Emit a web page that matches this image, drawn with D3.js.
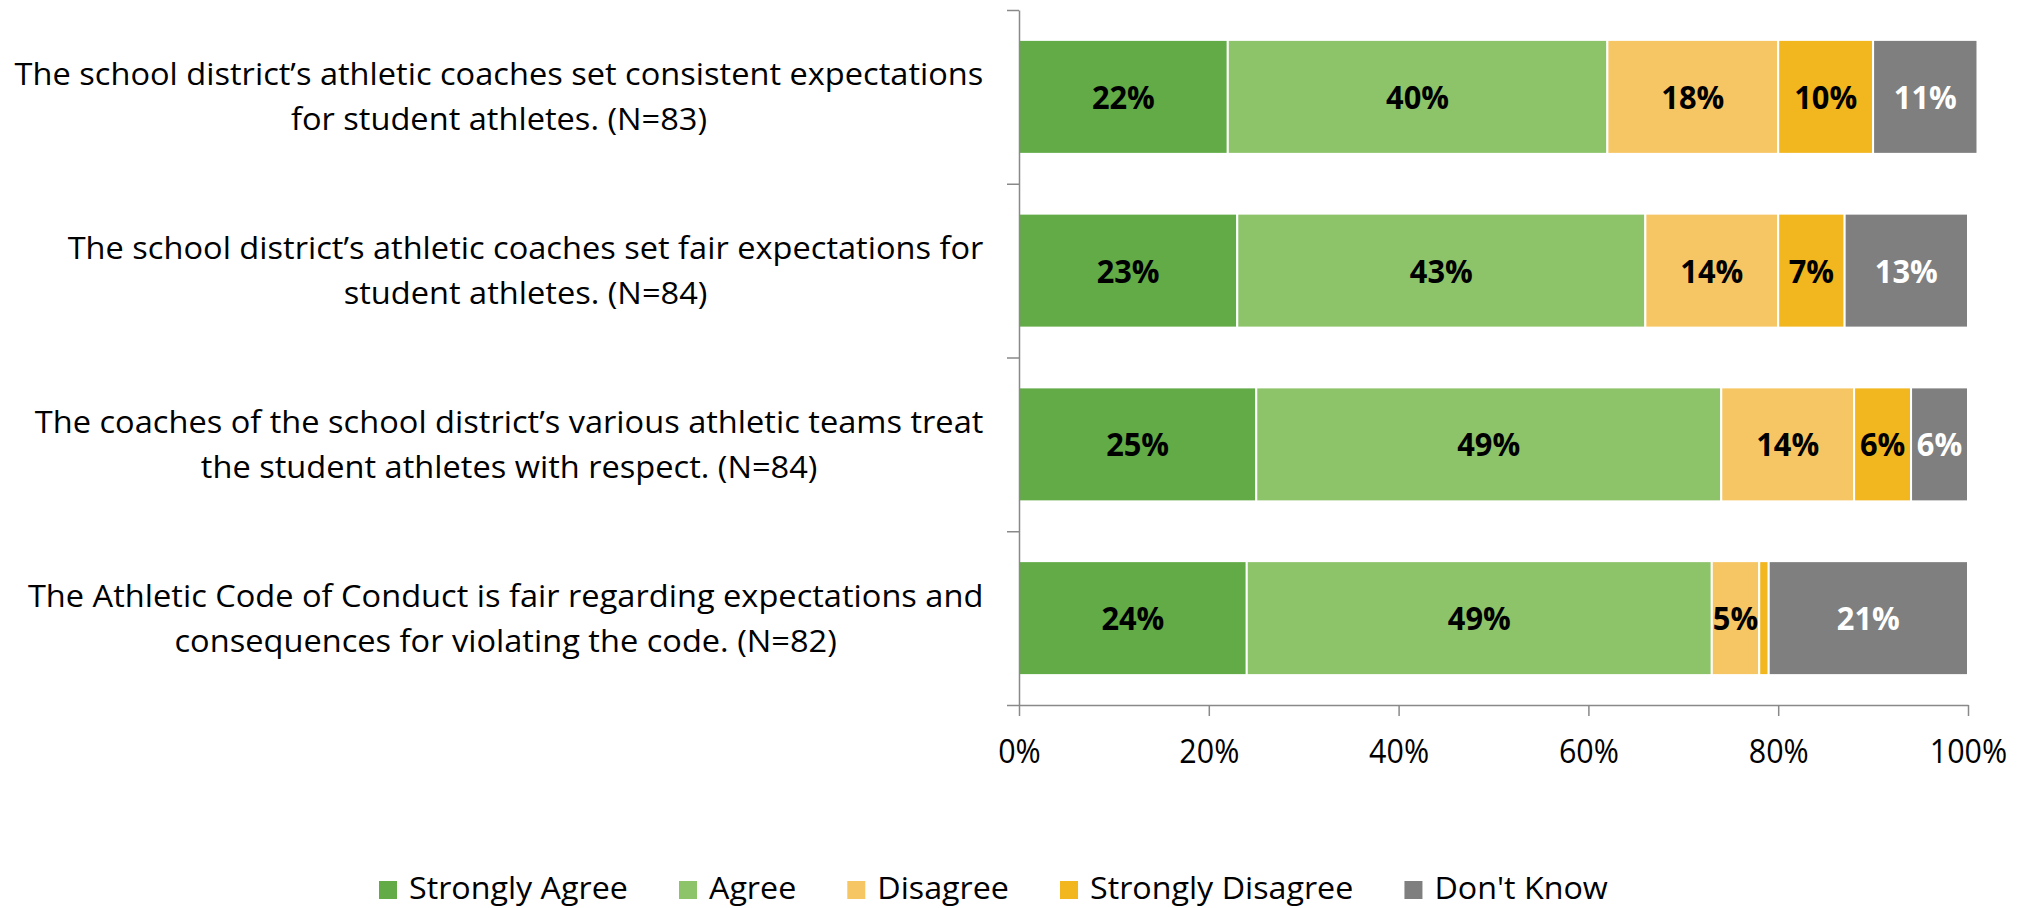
<!DOCTYPE html>
<html>
<head>
<meta charset="utf-8">
<script src="https://cdn.jsdelivr.net/npm/d3@7"></script>
<style>
  html, body { margin: 0; padding: 0; background: #ffffff; }
  svg { display: block; }
  text { font-family: "Open Sans", "Noto Sans", sans-serif; }
</style>
</head>
<body>
<svg id="chart" width="2028" height="908"></svg>
<script>
// Survey statements (line breaks as they wrap in the chart)
const categories = [
  "The school district\u2019s athletic coaches set consistent expectations\nfor student athletes. (N=83)",
  "The school district\u2019s athletic coaches set fair expectations for\nstudent athletes. (N=84)",
  "The coaches of the school district\u2019s various athletic teams treat\nthe student athletes with respect. (N=84)",
  "The Athletic Code of Conduct is fair regarding expectations and\nconsequences for violating the code. (N=82)"
];

const seriesNames = ["Strongly Agree", "Agree", "Disagree", "Strongly Disagree", "Don't Know"];

// Percent of respondents per statement
const stronglyAgree    = [22, 23, 25, 24];
const agree            = [40, 43, 49, 49];
const disagree         = [18, 14, 14, 5];
const stronglyDisagree = [10, 7, 6, 1];
const dontKnow         = [11, 13, 6, 21];

const tickValues = [0, 20, 40, 60, 80, 100];
const tickLabels = ["0%", "20%", "40%", "60%", "80%", "100%"];

const seriesColors = ["#62ab46", "#8dc46a", "#f7c664", "#f2b61e", "#7f7f7f"];
const labelColors  = ["#000000", "#000000", "#000000", "#000000", "#ffffff"];

const seriesValues = [stronglyAgree, agree, disagree, stronglyDisagree, dontKnow];
const rows = categories.map((c, i) => {
  const r = { category: c };
  seriesNames.forEach((s, j) => { r[s] = seriesValues[j][i]; });
  return r;
});

const svg = d3.select("#chart");
svg.append("rect").attr("width", 2028).attr("height", 908).attr("fill", "#ffffff");

// Plot area
const plot = { left: 1019, right: 1968, top: 10, bottom: 705 };

const x = d3.scaleLinear().domain([0, 100]).range([plot.left, plot.right]);
const y = d3.scaleBand()
  .domain(categories)
  .range([plot.top, plot.bottom])
  .paddingInner(0.344)
  .paddingOuter(0.172);
const yEdges = d3.scaleLinear().domain([0, categories.length]).range([plot.top, plot.bottom]);

// Text width helper: fonts are condensed horizontally to the chart's typeface width
const probe = svg.append("text").attr("x", -9999).attr("y", -9999);
function measure(str, size, weight) {
  probe.attr("font-size", size).attr("font-weight", weight || 400).text(str);
  return probe.node().getComputedTextLength();
}
const catSize = 31, catK = 969 / measure("The school district\u2019s athletic coaches set consistent expectations", catSize);
const tickSize = 33.5, tickK = 60 / measure("20%", tickSize);
const valSize = 32, valK = 63 / measure("14%", valSize, 700);
const legSize = 31, legK = 219 / measure("Strongly Agree", legSize);

// Stacked bars
const stack = d3.stack().keys(seriesNames);
const layers = stack(rows);

const barG = svg.append("g");
layers.forEach((layer, si) => {
  const g = barG.append("g");
  g.selectAll("rect")
    .data(layer)
    .join("rect")
    .attr("x", d => x(d[0]))
    .attr("y", d => y(d.data.category))
    .attr("width", d => x(d[1]) - x(d[0]))
    .attr("height", y.bandwidth())
    .attr("fill", seriesColors[si])
    .attr("stroke", "#ffffff")
    .attr("stroke-width", 2);

  g.selectAll("text")
    .data(layer.filter(d => d[1] - d[0] > 1))
    .join("text")
    .attr("transform", d => `translate(${(x(d[0]) + x(d[1])) / 2},${y(d.data.category) + y.bandwidth() / 2 + 12}) scale(${valK},1)`)
    .attr("text-anchor", "middle")
    .attr("font-size", valSize)
    .attr("font-weight", 700)
    .attr("fill", labelColors[si])
    .text(d => (d[1] - d[0]) + "%");
});

// Axes
const axisColor = "#898989";
const xAxis = svg.append("g")
  .attr("transform", `translate(0,${plot.bottom})`)
  .call(d3.axisBottom(x).tickValues(tickValues).tickFormat((d, i) => tickLabels[i]).tickSize(11).tickSizeOuter(0));
xAxis.select(".domain").attr("stroke", axisColor).attr("stroke-width", 1.5);
xAxis.selectAll(".tick line").attr("stroke", axisColor).attr("stroke-width", 1.5);
xAxis.selectAll(".tick text")
  .attr("y", 0).attr("dy", null)
  .attr("transform", `translate(0,58) scale(${tickK},1)`)
  .attr("font-size", tickSize)
  .attr("font-family", "Open Sans")
  .attr("fill", "#000000");

const yAxis = svg.append("g")
  .attr("transform", `translate(${plot.left},0)`)
  .call(d3.axisLeft(yEdges).tickValues(d3.range(categories.length + 1)).tickFormat("").tickSize(12).tickSizeOuter(0));
yAxis.select(".domain").attr("stroke", axisColor).attr("stroke-width", 1.5);
yAxis.selectAll(".tick line").attr("stroke", axisColor).attr("stroke-width", 1.5);

// Category labels: two centred lines, block right-aligned to the label column
const labelRight = 983.5;
const lineGap = 45;
const catG = svg.append("g");
categories.forEach(c => {
  const lines = c.split("\n");
  const maxW = d3.max(lines, l => measure(l, catSize)) * catK;
  const cx = labelRight - maxW / 2;
  const cy = y(c) + y.bandwidth() / 2;
  lines.forEach((l, i) => {
    const base = cy + (i - (lines.length - 1) / 2) * lineGap + 11;
    catG.append("text")
      .attr("transform", `translate(${cx},${base}) scale(${catK},1)`)
      .attr("text-anchor", "middle")
      .attr("font-size", catSize)
      .attr("fill", "#000000")
      .text(l);
  });
});

// Legend
const legG = svg.append("g");
let lx = 379;
seriesNames.forEach((s, i) => {
  legG.append("rect")
    .attr("x", lx).attr("y", 881)
    .attr("width", 18).attr("height", 18)
    .attr("fill", seriesColors[i]);
  legG.append("text")
    .attr("transform", `translate(${lx + 30},899) scale(${legK},1)`)
    .attr("font-size", legSize)
    .attr("fill", "#000000")
    .text(s);
  lx += 30 + measure(s, legSize) * legK + 51;
});

probe.remove();
</script>
</body>
</html>
